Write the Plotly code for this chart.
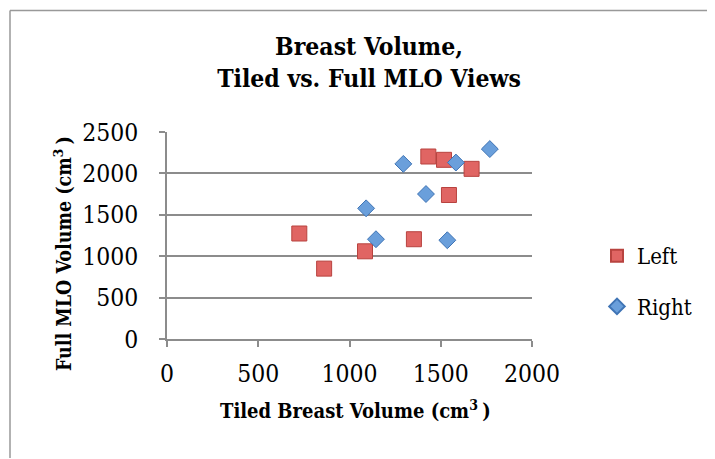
import plotly.graph_objects as go

left_x = [725, 861, 1085, 1353, 1432, 1518, 1669, 1545]
left_y = [1274, 850, 1059, 1205, 2204, 2164, 2055, 1739]
right_x = [1091, 1145, 1295, 1419, 1583, 1536, 1769]
right_y = [1578, 1205, 2115, 1751, 2131, 1193, 2294]

x_ticks = [0, 500, 1000, 1500, 2000]
y_ticks = [0, 500, 1000, 1500, 2000, 2500]

SERIF = "DejaVu Serif Condensed, DejaVu Serif, Liberation Serif, serif"

# The page body adds an 8px offset; positions below are given in
# on-screen pixels and converted to figure coordinates.
OFF = 8
W, H = 715, 459
PL, PR, PT, PB = 167, 532, 132, 339          # on-screen plot box
L, T = PL - OFF, PT - OFF
PW, PH = PR - PL, PB - PT
R, B = W - L - PW, H - T - PH


def px(xs):
    return (xs - OFF - L) / PW


def py(ys):
    return (H - B - (ys - OFF)) / PH


fig = go.Figure()
fig.add_trace(go.Scatter(
    x=left_x, y=left_y, mode="markers", name="Left", legendgroup="L",
    marker=dict(symbol="square", size=15, color="#E06563",
                line=dict(color="#B8433F", width=1)),
))
fig.add_trace(go.Scatter(
    x=right_x, y=right_y, mode="markers", name="Right", legendgroup="R",
    marker=dict(symbol="diamond", size=13, color="#6A9FDB",
                line=dict(color="#3F74B5", width=1)),
))

FRAME = dict(color="#999999", width=1.5)

fig.update_layout(
    width=W, height=H,
    margin=dict(l=L, r=R, t=T, b=B, autoexpand=False),
    paper_bgcolor="white", plot_bgcolor="white",
    font=dict(family=SERIF, color="black"),
    title=dict(
        text="<b>Breast Volume,<br>Tiled vs. Full MLO Views</b>",
        x=(369 - OFF) / W, xanchor="center", xref="container",
        y=1 - (55 - OFF) / H, yanchor="top", yref="container",
        font=dict(size=24.5, family=SERIF),
    ),
    showlegend=True,
    legend=dict(
        x=px(597), xanchor="left", y=py(281.5), yanchor="middle",
        font=dict(size=22, family=SERIF),
        tracegroupgap=19, itemsizing="constant",
        bgcolor="rgba(0,0,0,0)",
    ),
    xaxis=dict(
        range=[0, 2000], tickvals=x_ticks, ticktext=[str(v) for v in x_ticks],
        showgrid=False, zeroline=False, automargin=False,
        showline=True, linecolor="#8C8C8C", linewidth=1.5,
        ticks="outside", ticklen=6, tickcolor="#8C8C8C", tickwidth=1.5,
        ticklabelstandoff=6,
        tickfont=dict(size=24.5, family=SERIF),
    ),
    yaxis=dict(
        range=[0, 2500], tickvals=y_ticks, ticktext=[str(v) for v in y_ticks],
        showgrid=True, gridcolor="#8C8C8C", gridwidth=1.5, zeroline=False,
        automargin=False,
        showline=True, linecolor="#8C8C8C", linewidth=1.5,
        ticks="outside", ticklen=6, tickcolor="#8C8C8C", tickwidth=1.5,
        ticklabelstandoff=16,
        tickfont=dict(size=24.5, family=SERIF),
    ),
    annotations=[
        dict(text="<b>Tiled Breast Volume (cm<sup>3 </sup>)</b>",
             xref="paper", yref="paper", x=px(355), y=py(410),
             xanchor="center", yanchor="middle", showarrow=False,
             font=dict(size=20, family=SERIF)),
        dict(text="<b>Full MLO Volume (cm<sup>3 </sup>)</b>",
             xref="paper", yref="paper", x=px(63), y=py(254),
             xanchor="center", yanchor="middle", showarrow=False,
             textangle=-90,
             font=dict(size=19.5, family=SERIF)),
    ],
    shapes=[
        dict(type="line", xref="paper", yref="paper",
             x0=px(10), x1=px(714), y0=py(10.5), y1=py(10.5),
             line=FRAME, layer="below"),
        dict(type="line", xref="paper", yref="paper",
             x0=px(10), x1=px(10), y0=py(10.5), y1=py(458),
             line=FRAME, layer="below"),
    ],
)

fig.write_html("out.html")
